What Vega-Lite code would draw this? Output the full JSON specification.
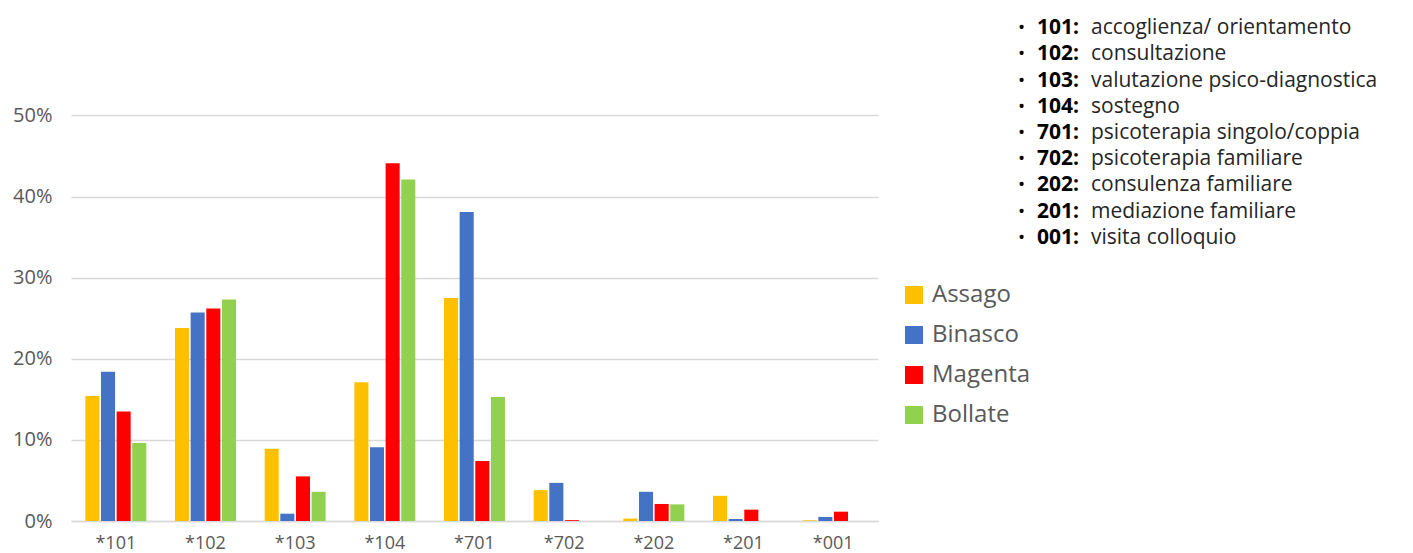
{
  "$schema": "https://vega.github.io/schema/vega-lite/v6.json",
  "padding": {"left": 12, "top": 14, "right": 5, "bottom": 5},
  "background": "white",
  "config": {"view": {"stroke": null}, "font": "Open Sans"},
  "datasets": {
    "bars": [
      {"cat": "*101", "site": "Assago", "v": 0.154},
      {"cat": "*101", "site": "Binasco", "v": 0.184},
      {"cat": "*101", "site": "Magenta", "v": 0.135},
      {"cat": "*101", "site": "Bollate", "v": 0.096},
      {"cat": "*102", "site": "Assago", "v": 0.238},
      {"cat": "*102", "site": "Binasco", "v": 0.257},
      {"cat": "*102", "site": "Magenta", "v": 0.262},
      {"cat": "*102", "site": "Bollate", "v": 0.273},
      {"cat": "*103", "site": "Assago", "v": 0.089},
      {"cat": "*103", "site": "Binasco", "v": 0.009},
      {"cat": "*103", "site": "Magenta", "v": 0.055},
      {"cat": "*103", "site": "Bollate", "v": 0.036},
      {"cat": "*104", "site": "Assago", "v": 0.171},
      {"cat": "*104", "site": "Binasco", "v": 0.091},
      {"cat": "*104", "site": "Magenta", "v": 0.441},
      {"cat": "*104", "site": "Bollate", "v": 0.421},
      {"cat": "*701", "site": "Assago", "v": 0.275},
      {"cat": "*701", "site": "Binasco", "v": 0.381},
      {"cat": "*701", "site": "Magenta", "v": 0.074},
      {"cat": "*701", "site": "Bollate", "v": 0.153},
      {"cat": "*702", "site": "Assago", "v": 0.038},
      {"cat": "*702", "site": "Binasco", "v": 0.047},
      {"cat": "*702", "site": "Magenta", "v": 0.001},
      {"cat": "*702", "site": "Bollate", "v": 0},
      {"cat": "*202", "site": "Assago", "v": 0.003},
      {"cat": "*202", "site": "Binasco", "v": 0.036},
      {"cat": "*202", "site": "Magenta", "v": 0.021},
      {"cat": "*202", "site": "Bollate", "v": 0.0205},
      {"cat": "*201", "site": "Assago", "v": 0.031},
      {"cat": "*201", "site": "Binasco", "v": 0.0025},
      {"cat": "*201", "site": "Magenta", "v": 0.014},
      {"cat": "*201", "site": "Bollate", "v": 0},
      {"cat": "*001", "site": "Assago", "v": 0.0008},
      {"cat": "*001", "site": "Binasco", "v": 0.005},
      {"cat": "*001", "site": "Magenta", "v": 0.0115},
      {"cat": "*001", "site": "Bollate", "v": 0}
    ],
    "codes": [
      {"label": "101:", "desc": "accoglienza/ orientamento"},
      {"label": "102:", "desc": "consultazione"},
      {"label": "103:", "desc": "valutazione psico-diagnostica"},
      {"label": "104:", "desc": "sostegno"},
      {"label": "701:", "desc": "psicoterapia singolo/coppia"},
      {"label": "702:", "desc": "psicoterapia familiare"},
      {"label": "202:", "desc": "consulenza familiare"},
      {"label": "201:", "desc": "mediazione familiare"},
      {"label": "001:", "desc": "visita colloquio"}
    ]
  },
  "spacing": 140,
  "bounds": "flush",
  "hconcat": [
    {
      "width": 807,
      "height": 507,
      "data": {"name": "bars"},
      "mark": {"type": "bar"},
      "encoding": {
        "x": {
          "field": "cat", "type": "nominal",
          "sort": ["*101", "*102", "*103", "*104", "*701", "*702", "*202", "*201", "*001"],
          "scale": {"paddingInner": 0.32, "paddingOuter": 0.16},
          "axis": {"title": null, "labelAngle": 0, "labelFontSize": 18, "labelColor": "#595959", "ticks": false, "domainColor": "#d9d9d9", "domainWidth": 1.5, "labelPadding": 13}
        },
        "xOffset": {
          "field": "site", "type": "nominal",
          "sort": ["Assago", "Binasco", "Magenta", "Bollate"],
          "scale": {"paddingInner": 0.1}
        },
        "y": {
          "field": "v", "type": "quantitative",
          "scale": {"domain": [0, 0.625]},
          "axis": {"values": [0, 0.1, 0.2, 0.3, 0.4, 0.5], "format": "%", "title": null, "domain": false, "ticks": false, "gridColor": "#d9d9d9", "gridWidth": 1.5, "labelFontSize": 20, "labelColor": "#595959", "labelPadding": 19}
        },
        "color": {
          "field": "site", "type": "nominal",
          "scale": {"domain": ["Assago", "Binasco", "Magenta", "Bollate"], "range": ["#FFC000", "#4472C4", "#FF0000", "#92D050"]},
          "legend": {"title": null, "orient": "none", "legendX": 831, "legendY": 269, "labelFontSize": 24, "labelColor": "#595959", "symbolType": "square", "symbolSize": 324, "symbolOpacity": 1, "symbolStrokeWidth": 0, "rowPadding": 16, "labelOffset": 6}
        }
      }
    },
    {
      "width": 390,
      "height": 236,
      "data": {"name": "codes"},
      "encoding": {
        "y": {"field": "label", "type": "nominal", "sort": null, "axis": null},
        "x": {"datum": 0, "type": "quantitative", "scale": {"domain": [0, 1]}, "axis": null}
      },
      "layer": [
        {"mark": {"type": "text", "text": "•", "align": "left", "dy": 1, "fontSize": 19, "color": "#000000"}},
        {"mark": {"type": "text", "align": "left", "dx": 19, "dy": 1, "fontSize": 21, "fontWeight": "bold", "color": "#000000"}, "encoding": {"text": {"field": "label"}}},
        {"mark": {"type": "text", "align": "left", "dx": 73, "dy": 1, "fontSize": 21, "color": "#262626"}, "encoding": {"text": {"field": "desc"}}}
      ]
    }
  ]
}
